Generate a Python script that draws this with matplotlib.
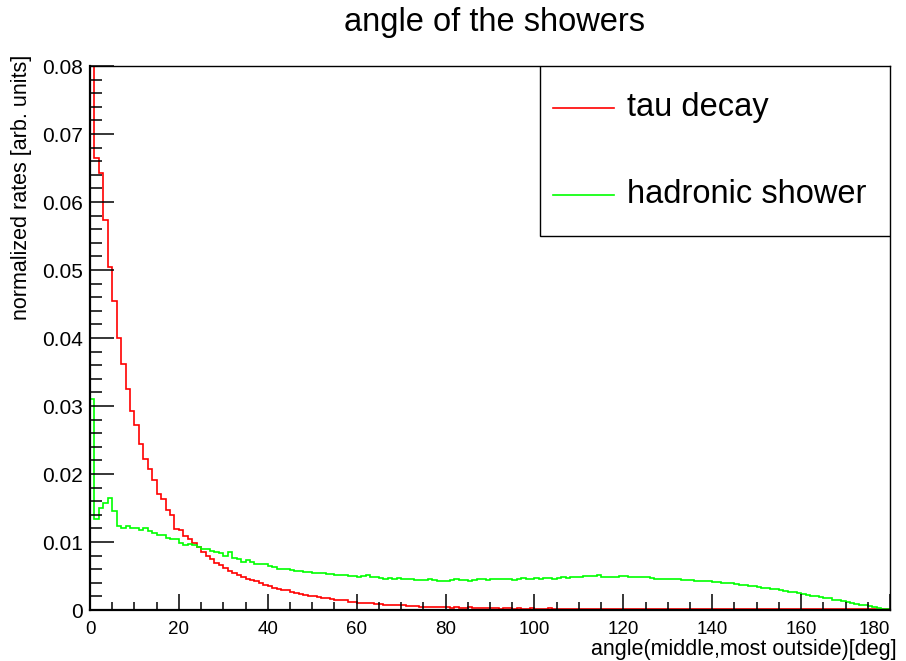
import numpy as np
import matplotlib
matplotlib.use("Agg")
import matplotlib.pyplot as plt
from matplotlib.ticker import MultipleLocator
from matplotlib.patches import Rectangle
from matplotlib.lines import Line2D

plt.rcParams["font.family"] = ["Liberation Sans", "DejaVu Sans"]

# 1-degree bins from 0 to 180
bin_edges = np.arange(0, 181, 1)

# tau decay, normalized rate per bin
tau_decay = [
    0.0840, 0.0664, 0.0642, 0.0573, 0.0504, 0.0455, 0.0400, 0.0362, 0.0325, 0.0293,
    0.0272, 0.0244, 0.0222, 0.0207, 0.0191, 0.0170, 0.0163, 0.0147, 0.0140, 0.0119,
    0.0117, 0.0109, 0.0104, 0.0099, 0.0093, 0.0085, 0.0079, 0.0075, 0.0069, 0.0066,
    0.0062, 0.0058, 0.0055, 0.0052, 0.0048, 0.0046, 0.0044, 0.0043, 0.0040, 0.0037,
    0.0036, 0.0033, 0.0031, 0.0030, 0.0029, 0.0027, 0.0025, 0.0024, 0.0022, 0.0021,
    0.0020, 0.0019, 0.0018, 0.0017, 0.0016, 0.0015, 0.0014, 0.0014, 0.0012, 0.0012,
    0.0011, 0.0011, 0.0010, 0.0010, 0.0009, 0.0009, 0.0008, 0.0008, 0.0007, 0.0008,
    0.0007, 0.0006, 0.0006, 0.0006, 0.0005, 0.0005, 0.0005, 0.0004, 0.0004, 0.0004,
    0.0004, 0.0003, 0.0004, 0.0003, 0.0003, 0.0004, 0.0003, 0.0003, 0.0003, 0.0003,
    0.0003, 0.0003, 0.0002, 0.0003, 0.0003, 0.0002, 0.0003, 0.0002, 0.0002, 0.0003,
    0.0002, 0.0002, 0.0002, 0.0003, 0.0002, 0.0002, 0.0002, 0.0002, 0.0002, 0.0002,
    0.0002, 0.0002, 0.0002, 0.0002, 0.0002, 0.0002, 0.0002, 0.0002, 0.0002, 0.0002,
    0.0002, 0.0002, 0.0002, 0.0002, 0.0002, 0.0002, 0.0002, 0.0002, 0.0002, 0.0002,
    0.0002, 0.0002, 0.0002, 0.0002, 0.0002, 0.0002, 0.0002, 0.0002, 0.0002, 0.0002,
    0.0002, 0.0002, 0.0002, 0.0002, 0.0002, 0.0002, 0.0002, 0.0002, 0.0002, 0.0002,
    0.0002, 0.0002, 0.0002, 0.0002, 0.0002, 0.0002, 0.0002, 0.0002, 0.0002, 0.0001,
    0.0001, 0.0001, 0.0001, 0.0001, 0.0001, 0.0001, 0.0001, 0.0001, 0.0001, 0.0001,
    0.0001, 0.0001, 0.0001, 0.0001, 0.0001, 0.0001, 0.0001, 0.0001, 0.0001, 0.0001,
]

# hadronic shower, normalized rate per bin
hadronic_shower = [
    0.0311, 0.0134, 0.0150, 0.0157, 0.0164, 0.0145, 0.0123, 0.0120, 0.0123, 0.0121,
    0.0120, 0.0118, 0.0120, 0.0116, 0.0113, 0.0110, 0.0111, 0.0106, 0.0105, 0.0104,
    0.0099, 0.0096, 0.0097, 0.0095, 0.0093, 0.0090, 0.0090, 0.0087, 0.0086, 0.0084,
    0.0080, 0.0085, 0.0076, 0.0075, 0.0071, 0.0074, 0.0071, 0.0068, 0.0067, 0.0067,
    0.0065, 0.0063, 0.0061, 0.0061, 0.0060, 0.0059, 0.0058, 0.0058, 0.0056, 0.0056,
    0.0055, 0.0054, 0.0055, 0.0053, 0.0053, 0.0052, 0.0051, 0.0051, 0.0050, 0.0050,
    0.0049, 0.0050, 0.0051, 0.0048, 0.0048, 0.0047, 0.0046, 0.0047, 0.0046, 0.0047,
    0.0046, 0.0045, 0.0045, 0.0044, 0.0044, 0.0044, 0.0045, 0.0044, 0.0043, 0.0042,
    0.0043, 0.0044, 0.0045, 0.0044, 0.0044, 0.0043, 0.0044, 0.0045, 0.0045, 0.0044,
    0.0045, 0.0046, 0.0046, 0.0045, 0.0045, 0.0044, 0.0045, 0.0047, 0.0046, 0.0046,
    0.0047, 0.0046, 0.0047, 0.0047, 0.0046, 0.0047, 0.0048, 0.0047, 0.0048, 0.0048,
    0.0049, 0.0050, 0.0050, 0.0050, 0.0051, 0.0048, 0.0048, 0.0049, 0.0049, 0.0050,
    0.0050, 0.0049, 0.0049, 0.0048, 0.0048, 0.0048, 0.0047, 0.0046, 0.0046, 0.0046,
    0.0045, 0.0045, 0.0045, 0.0044, 0.0044, 0.0044, 0.0043, 0.0043, 0.0042, 0.0043,
    0.0041, 0.0041, 0.0040, 0.0039, 0.0040, 0.0038, 0.0037, 0.0037, 0.0035, 0.0035,
    0.0034, 0.0033, 0.0032, 0.0031, 0.0031, 0.0029, 0.0028, 0.0027, 0.0026, 0.0025,
    0.0023, 0.0022, 0.0021, 0.0020, 0.0019, 0.0017, 0.0017, 0.0015, 0.0014, 0.0013,
    0.0012, 0.0011, 0.0009, 0.0008, 0.0007, 0.0006, 0.0005, 0.0003, 0.0002, 0.0001,
]

series_names = ["tau decay", "hadronic shower"]
series_colors = ["#ff0000", "#00ff00"]

x_ticks = np.arange(0, 181, 20)
y_ticks = np.arange(0, 0.0801, 0.01)

fig = plt.figure(figsize=(9.06, 6.61), dpi=100)
ax = fig.add_axes([90 / 906, 51 / 661, 800 / 906, 544 / 661])

for vals, col in zip([tau_decay, hadronic_shower], series_colors):
    ax.stairs(vals, bin_edges, baseline=0, color=col, lw=1.2)

ax.set_xlim(0, 180)
ax.set_ylim(0, 0.08)

ax.set_xticks(x_ticks)
ax.set_xticklabels([str(int(t)) for t in x_ticks])
ax.set_yticks(y_ticks)
ax.set_yticklabels(["0"] + ["%.2f" % t for t in y_ticks[1:]])
ax.xaxis.set_minor_locator(MultipleLocator(5))
ax.yaxis.set_minor_locator(MultipleLocator(0.002))

ax.tick_params(axis="x", which="major", direction="in", length=11.5, width=1.1,
               labelsize=13.5, pad=8)
ax.tick_params(axis="x", which="minor", direction="in", length=5.8, width=1.1)
ax.tick_params(axis="y", which="major", direction="in", length=17, width=1.1,
               labelsize=15, pad=5)
ax.tick_params(axis="y", which="minor", direction="in", length=8.6, width=1.1)
ax.tick_params(top=False, right=False, which="both")

# keep the last x label inside the frame
ax.get_xticklabels()[-1].set_horizontalalignment("right")

for side in ["left", "bottom"]:
    ax.spines[side].set_linewidth(1.6)
for side in ["top", "right"]:
    ax.spines[side].set_linewidth(1.0)

# legend box in the upper right corner
ax.add_patch(Rectangle((0.5625, 0.6875), 0.4375, 0.3125, transform=ax.transAxes,
                       facecolor="white", edgecolor="black", lw=1.0, zorder=5))
for name, col, ly in zip(series_names, series_colors, [0.9228, 0.7629]):
    ax.add_line(Line2D([0.579, 0.655], [ly, ly], transform=ax.transAxes,
                       color=col, lw=1.2, zorder=6))
    ax.text(0.671, ly, name, transform=ax.transAxes, fontsize=23.5,
            ha="left", va="center", zorder=6)

fig.text(494 / 906, 1 - 22 / 661, "angle of the showers", fontsize=23.5,
         ha="center", va="center")
fig.text(897 / 906, 6 / 661, "angle(middle,most outside)[deg]", fontsize=15.5,
         ha="right", va="baseline")
fig.text(22 / 906, 1 - 55 / 661, "normalized rates [arb. units]", fontsize=15.5,
         rotation=90, ha="center", va="top")

fig.savefig("out.png", dpi=100)
